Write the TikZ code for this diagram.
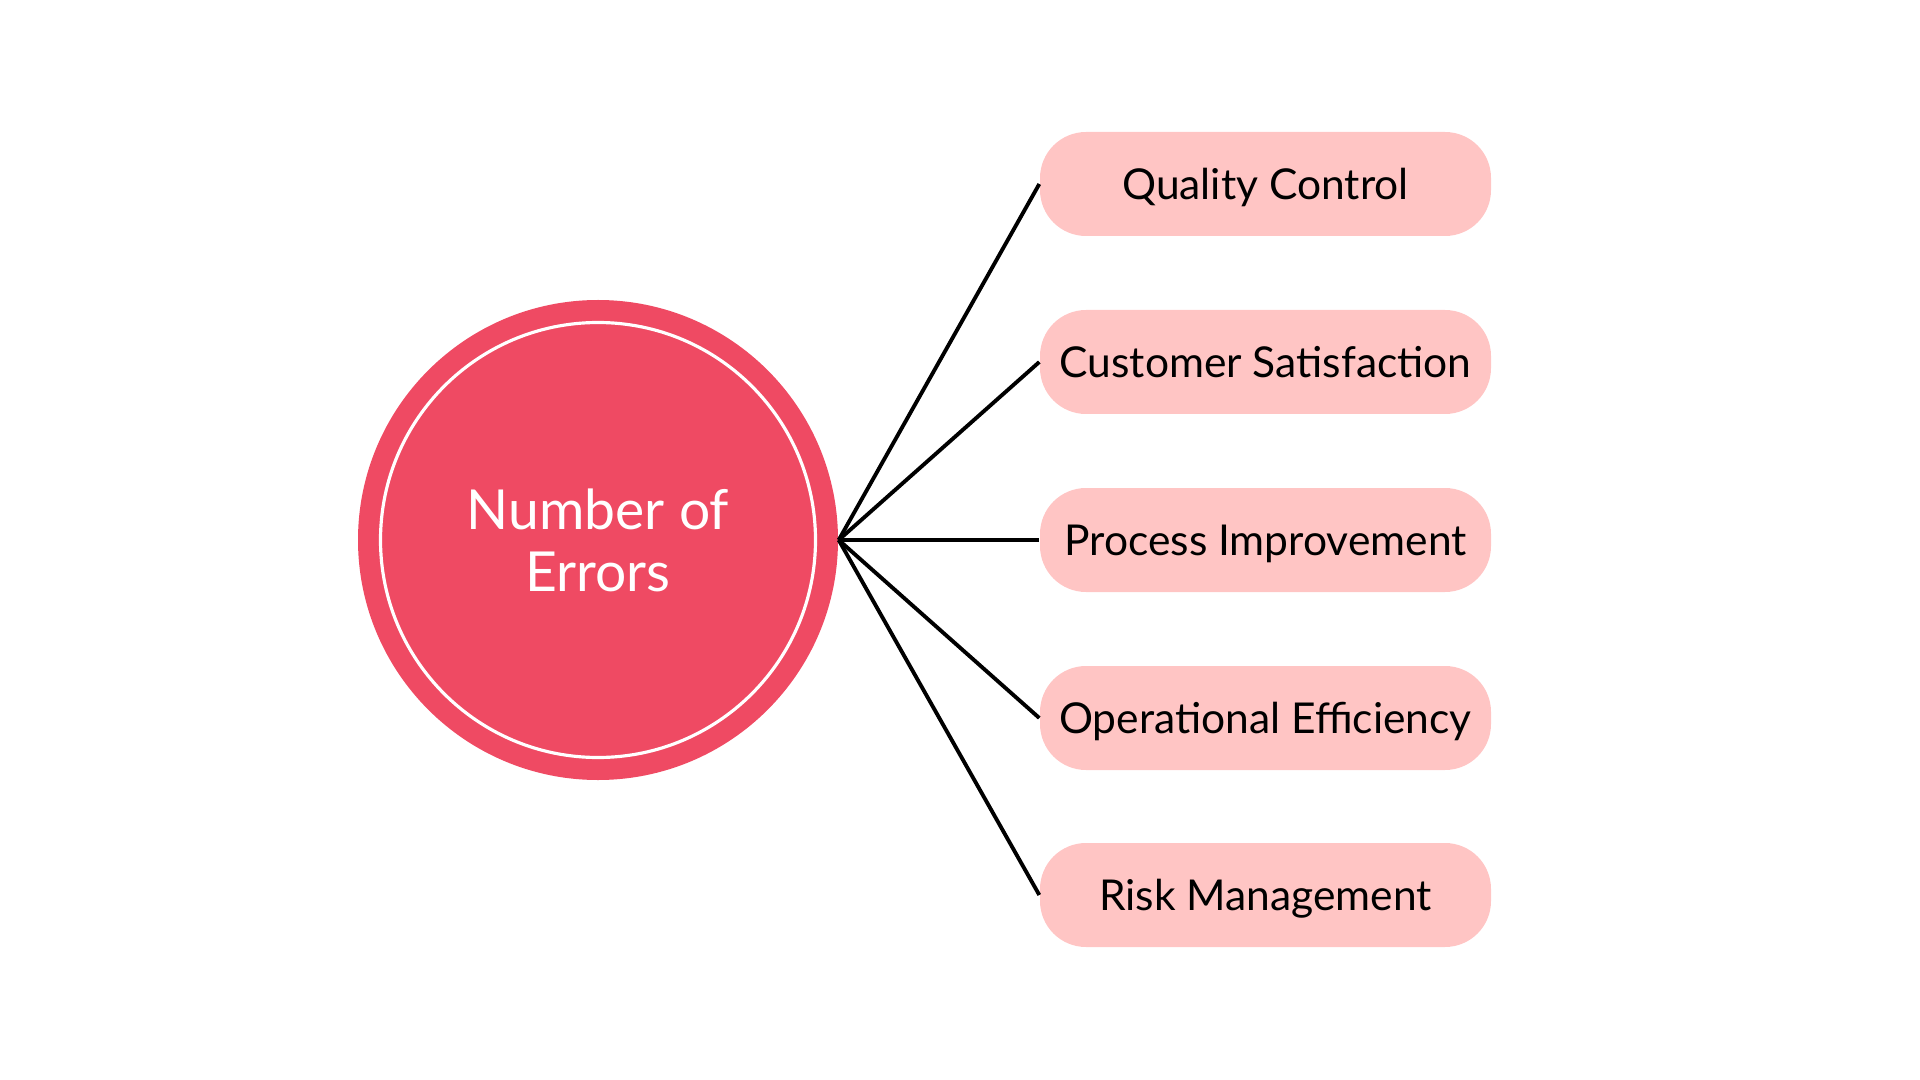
\documentclass[tikz,border=0pt]{standalone}
\usepackage{fontspec}
\setmainfont{Lato}
\usepackage{tikz,xcolor}
\definecolor{errred}{RGB}{239,74,99}
\definecolor{boxpink}{RGB}{255,197,196}

\begin{document}
\begin{tikzpicture}[auto,
    topic/.style={fill=boxpink, rounded corners=0.46cm, minimum width=4.51cm,
      minimum height=1.04cm, inner sep=0pt, text height=8.7pt, text depth=0pt,
      font=\fontsize{12.1pt}{14pt}\selectfont},
    link/.style={line width=1.1pt, black}]
    \useasboundingbox (0,0) rectangle (19.2,-10.8);
    \node[circle, fill=errred, minimum size=4.8cm, inner sep=0pt] (n) at (5.98,-5.40) {};
    \draw[white, line width=0.9pt] (n.center) circle (2.175);
    \node[text=white, align=center, font=\fontsize{15.7pt}{17.6pt}\selectfont] (t) at (5.98,-5.40) {Number of\\Errors};
    \node[topic] (a) at (12.655,-1.84) {Quality Control};
    \node[topic] (b) at (12.655,-3.62) {Customer Satisfaction};
    \node[topic] (c) at (12.655,-5.40) {Process Improvement};
    \node[topic] (d) at (12.655,-7.18) {Operational Efficiency};
    \node[topic] (e) at (12.655,-8.95) {Risk Management};
    \draw [link] (n.east) to (a.west);
    \draw [link] (n.east) to (b.west);
    \draw [link] (n.east) to (c.west);
    \draw [link] (n.east) to (d.west);
    \draw [link] (n.east) to (e.west);
  \end{tikzpicture}
\end{document}
